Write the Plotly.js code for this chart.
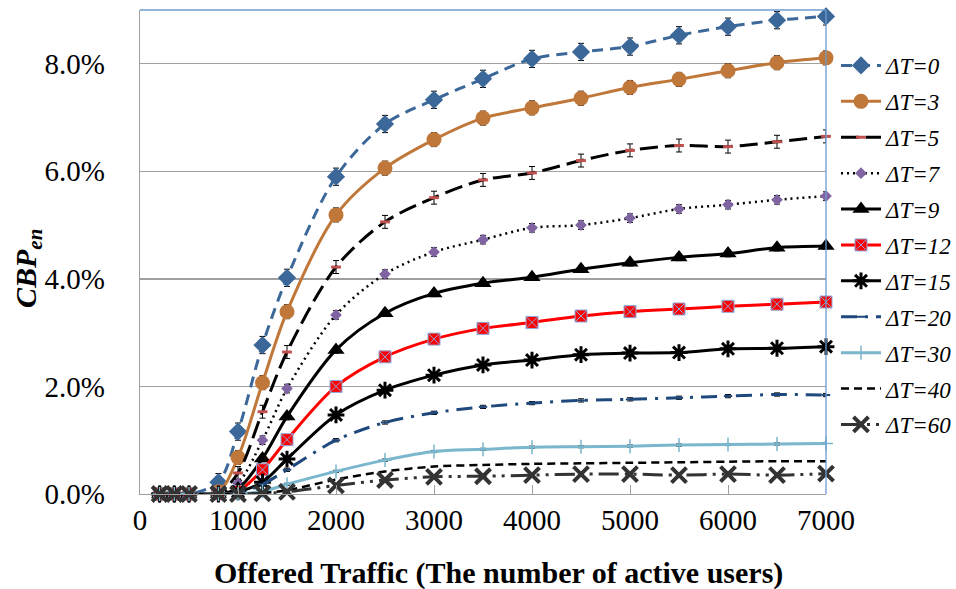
<!DOCTYPE html>
<html>
<head>
<meta charset="utf-8">
<script src="https://cdn.plot.ly/plotly-3.0.1.min.js"></script>
<style>html,body{margin:0;padding:0;background:#fff}#chart{width:956px;height:589px}</style>
</head>
<body>
<div id="chart"></div>
<script>
// Offered traffic (number of active users)
const traffic = [200, 350, 500, 800, 1000, 1250, 1500, 2000, 2500, 3000, 3500, 4000, 4500, 5000, 5500, 6000, 6500, 7000];

// CBP_en in percent, one array per ΔT
const dT0  = [0, 0, 0, 0.22, 1.16, 2.77, 4.02, 5.90, 6.88, 7.33, 7.72, 8.09, 8.22, 8.32, 8.53, 8.69, 8.81, 8.88];
const dT3  = [0, 0, 0, 0.04, 0.68, 2.07, 3.39, 5.19, 6.06, 6.59, 6.99, 7.18, 7.36, 7.56, 7.71, 7.87, 8.02, 8.11];
const dT5  = [0, 0, 0, 0.02, 0.39, 1.53, 2.64, 4.22, 5.06, 5.51, 5.84, 5.97, 6.20, 6.39, 6.48, 6.46, 6.55, 6.65];
const dT7  = [0, 0, 0, 0.01, 0.20, 1.00, 1.96, 3.33, 4.09, 4.50, 4.73, 4.95, 5.00, 5.13, 5.30, 5.38, 5.47, 5.54];
const dT9  = [0, 0, 0, 0, 0.10, 0.66, 1.44, 2.68, 3.36, 3.73, 3.92, 4.03, 4.18, 4.30, 4.40, 4.47, 4.58, 4.61];
const dT12 = [0, 0, 0, 0, 0.05, 0.45, 1.01, 2.00, 2.55, 2.88, 3.08, 3.19, 3.31, 3.39, 3.44, 3.49, 3.53, 3.57];
const dT15 = [0, 0, 0, 0, 0.04, 0.22, 0.65, 1.47, 1.93, 2.21, 2.40, 2.49, 2.59, 2.62, 2.63, 2.70, 2.71, 2.74];
const dT20 = [0, 0, 0, 0, 0.02, 0.18, 0.45, 1.00, 1.33, 1.51, 1.62, 1.69, 1.74, 1.76, 1.79, 1.82, 1.85, 1.84];
const dT30 = [0, 0, 0, 0, 0, 0.05, 0.18, 0.42, 0.63, 0.79, 0.83, 0.87, 0.88, 0.89, 0.91, 0.92, 0.93, 0.94];
const dT40 = [0, 0, 0, 0, 0, 0.02, 0.07, 0.27, 0.42, 0.51, 0.54, 0.56, 0.57, 0.58, 0.59, 0.60, 0.61, 0.61];
const dT60 = [0, 0, 0, 0, 0, 0.01, 0.04, 0.16, 0.26, 0.32, 0.33, 0.35, 0.37, 0.37, 0.35, 0.37, 0.35, 0.38];

const seriesNames = ['ΔT=0', 'ΔT=3', 'ΔT=5', 'ΔT=7', 'ΔT=9', 'ΔT=12', 'ΔT=15', 'ΔT=20', 'ΔT=30', 'ΔT=40', 'ΔT=60'];
const seriesValues = [dT0, dT3, dT5, dT7, dT9, dT12, dT15, dT20, dT30, dT40, dT60];
// approximate error-bar half heights (percentage points) per series
const errorSizes = [0.16, 0.13, 0.12, 0.08, 0.06, 0.05, 0.05, 0.03, 0.02, 0, 0];

const xTitle = 'Offered Traffic (The number of active users)';
const yTitle = 'CBP<sub>en</sub>';

const SERIF = 'Liberation Serif, Times New Roman, serif';

const styles = [
  {line: {color: '#3B6799', width: 3, dash: '11px,7px'}, marker: {symbol: 'diamond', size: 14, color: '#3B6799'}},
  {line: {color: '#C0773A', width: 3}, marker: {symbol: 'circle', size: 15, color: '#C0773A'}},
  {line: {color: '#000000', width: 3, dash: '18px,7px'}, marker: {symbol: 'line-ew', size: 7, color: '#C0504D', line: {color: '#C0504D', width: 3}}},
  {line: {color: '#000000', width: 2.5, dash: '2px,4px'}, marker: {symbol: 'diamond', size: 9, color: '#8064A2'}},
  {line: {color: '#000000', width: 3}, marker: {symbol: 'triangle-up', size: 15, color: '#000000'}},
  {line: {color: '#FF0000', width: 3}, marker: {symbol: 'square-x', size: 12, color: '#FF0000', line: {color: '#8EA9DB', width: 1}}},
  {line: {color: '#000000', width: 3}, marker: {symbol: 'asterisk', size: 14, color: '#000000', line: {color: '#000000', width: 3}}},
  {line: {color: '#1F497D', width: 3, dash: '16px,8px,3px,8px'}, marker: {symbol: 'line-ew', size: 6, color: '#1F497D', line: {color: '#1F497D', width: 2}}},
  {line: {color: '#7AB6CC', width: 3}, marker: {symbol: 'cross-thin', size: 10, color: '#7AB6CC', line: {color: '#7AB6CC', width: 1.5}}},
  {line: {color: '#000000', width: 2.5, dash: '8px,5px'}, mode: 'lines'},
  {line: {color: '#333333', width: 3, dash: '20px,6px,3px,6px,3px,6px'}, marker: {symbol: 'x-thin', size: 15, color: '#333333', line: {color: '#333333', width: 4}}}
];

const traces = seriesNames.map((name, i) => {
  const vals = seriesValues[i];
  const st = styles[i];
  const t = {
    type: 'scatter',
    x: traffic,
    y: vals,
    name: name,
    legendgroup: 'g' + i,
    mode: st.mode || 'lines+markers',
    line: Object.assign({shape: 'spline', smoothing: 0.9}, st.line),
    cliponaxis: false,
    hoverinfo: 'skip'
  };
  if (st.marker) t.marker = st.marker;
  if (errorSizes[i] > 0) {
    t.error_y = {
      type: 'data',
      array: vals.map(v => v >= 0.15 ? errorSizes[i] : 0),
      color: '#000000', thickness: 1, width: 3
    };
  }
  return t;
});

const layout = {
  width: 956, height: 589,
  margin: {l: 140, r: 130, t: 10, b: 95, autoexpand: false},
  paper_bgcolor: '#ffffff', plot_bgcolor: '#ffffff',
  font: {family: SERIF, color: '#000000', size: 24},
  showlegend: true,
  legend: {
    xref: 'container', yref: 'container',
    x: 836 / 956, xanchor: 'left', y: 1 - 44 / 589, yanchor: 'top',
    maxheight: 540,
    traceorder: 'grouped', tracegroupgap: 3,
    itemwidth: 40,
    font: {family: SERIF, size: 23, style: 'italic', color: '#000000'},
    bgcolor: 'rgba(0,0,0,0)'
  },
  xaxis: {
    range: [0, 7000], dtick: 1000, tick0: 0,
    showgrid: false, zeroline: false,
    showline: true, linecolor: '#A0A0A0', linewidth: 1.3,
    ticks: 'inside', ticklen: 9, tickcolor: '#A0A0A0',
    tickfont: {family: SERIF, size: 29, color: '#000000'},
    automargin: false
  },
  yaxis: {
    range: [0, 9], dtick: 2, tick0: 0,
    tickformat: '.1f', ticksuffix: '%',
    showgrid: true, gridcolor: '#A0A0A0', gridwidth: 1.3,
    zeroline: false,
    showline: true, linecolor: '#A0A0A0', linewidth: 1.3,
    ticks: 'outside', ticklen: 28, tickcolor: 'rgba(0,0,0,0)',
    automargin: false,
    tickfont: {family: SERIF, size: 29, color: '#000000'}
  },
  annotations: [
    {text: '<b><i>' + yTitle + '</i></b>', xref: 'paper', yref: 'paper',
     x: (28 - 140) / 686, y: (494 - 269) / 484, xanchor: 'center', yanchor: 'middle',
     textangle: -90, showarrow: false, font: {family: SERIF, size: 30, color: '#000000'}},
    {text: '<b>' + xTitle + '</b>', xref: 'paper', yref: 'paper',
     x: (498 - 140) / 686, y: (494 - 573) / 484, xanchor: 'center', yanchor: 'middle',
     showarrow: false, font: {family: SERIF, size: 30, color: '#000000'}}
  ],
  shapes: [
    {type: 'line', xref: 'paper', yref: 'paper', x0: 0, x1: 1, y0: 1, y1: 1, line: {color: '#6F9BD1', width: 1.3}},
    {type: 'line', xref: 'paper', yref: 'paper', x0: 1, x1: 1, y0: 0, y1: 1, line: {color: '#6F9BD1', width: 1.3}}
  ]
};

Plotly.newPlot('chart', traces, layout, {displayModeBar: false, staticPlot: true});
</script>
</body>
</html>
